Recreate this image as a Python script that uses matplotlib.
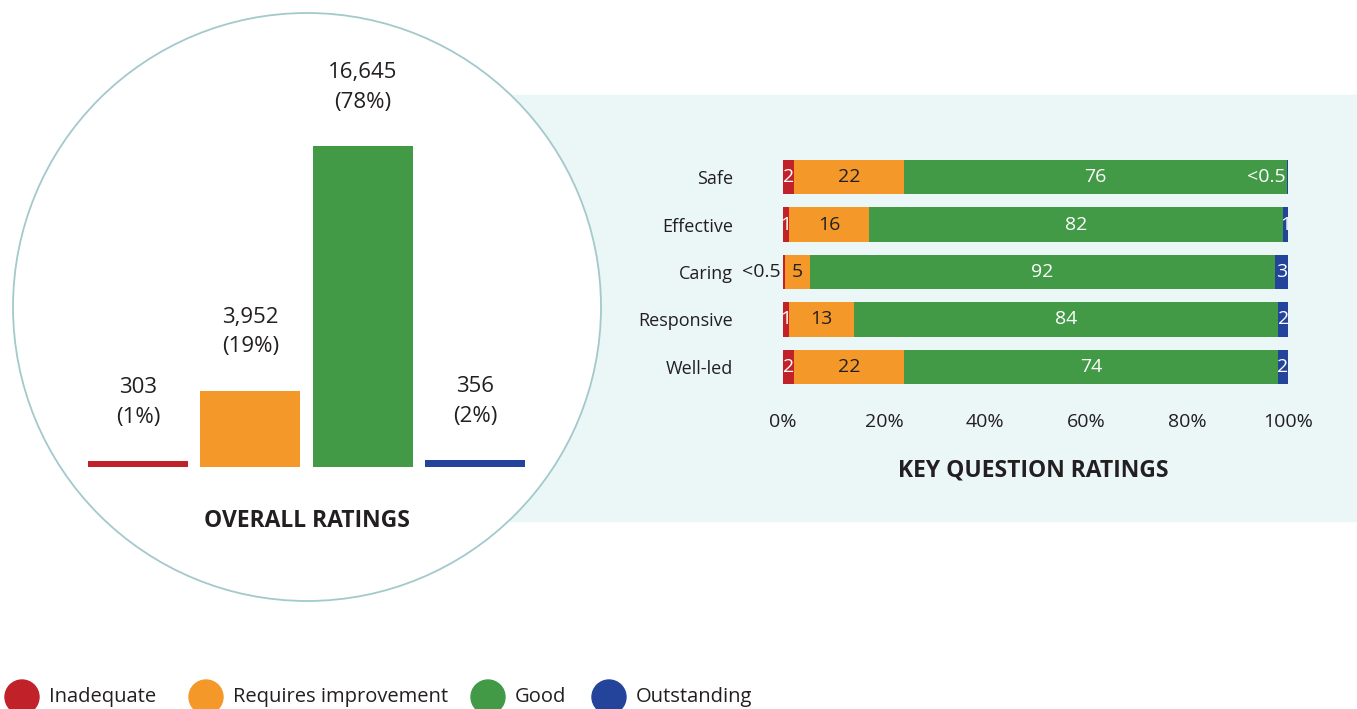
import numpy as np
import matplotlib
matplotlib.use("Agg")
import matplotlib.pyplot as plt
from matplotlib.patches import Circle, Rectangle

# overall ratings
overall_cats = ["Inadequate", "Requires improvement", "Good", "Outstanding"]
overall_counts = [303, 3952, 16645, 356]
overall_labels = ["303\n(1%)", "3,952\n(19%)", "16,645\n(78%)", "356\n(2%)"]

# key question ratings (percent)
questions = ["Safe", "Effective", "Caring", "Responsive", "Well-led"]
inadequate = [2.2, 1.2, 0.4, 1.2, 2.2]
requires_imp = [21.8, 15.8, 5.0, 12.9, 21.8]
good = [75.8, 82.0, 92.0, 84.0, 74.0]
outstanding = [0.2, 1.0, 2.6, 1.9, 2.0]
lab_inad = ["2", "1", "<0.5", "1", "2"]
lab_req = ["22", "16", "5", "13", "22"]
lab_good = ["76", "82", "92", "84", "74"]
lab_out = ["<0.5", "1", "3", "2", "2"]
xticks = [0, 20, 40, 60, 80, 100]

colors = ["#C1222A", "#F4982A", "#439A46", "#23449A"]
txt = "#231F20"
panel_col = "#EBF6F7"
ring_col = "#A3C9CC"

plt.rcParams['font.family'] = ['Open Sans', 'DejaVu Sans']

W, H = 1357, 709
fig = plt.figure(figsize=(W / 100, H / 100), dpi=100)

def px_axes(x0, y0, x1, y1, **kw):
    # pixel box (top-left origin) -> figure axes
    return fig.add_axes([x0 / W, 1 - y1 / H, (x1 - x0) / W, (y1 - y0) / H], **kw)

# background layer
bg = px_axes(0, 0, W, H)
bg.set_xlim(0, W)
bg.set_ylim(H, 0)
bg.axis("off")
bg.add_patch(Rectangle((510, 95), W - 510, 426, color=panel_col, zorder=1))
bg.add_patch(Circle((307, 307), 294, facecolor="white", edgecolor=ring_col, lw=1.3, zorder=2))
bg.text(307, 521, "OVERALL RATINGS", ha="center", va="center", fontsize=16.5,
        fontweight="bold", color=txt, zorder=3)
bg.text(1033, 470, "KEY QUESTION RATINGS", ha="center", va="center", fontsize=16.5,
        fontweight="bold", color=txt, zorder=3)

# legend
leg_x = [22, 206, 488, 609]
for x, c, name in zip(leg_x, colors, overall_cats):
    bg.add_patch(Circle((x, 697), 17, color=c, zorder=3))
    bg.text(x + 27, 697, name, ha="left", va="center", fontsize=14.5, color=txt, zorder=3)

# left: overall bar chart
axl = px_axes(81.8, 40, 531.2, 467)
axl.patch.set_alpha(0)
ymax = 16645 * 427 / 321
xpos = np.arange(len(overall_counts))
axl.bar(xpos, overall_counts, width=0.89, color=colors)
for x, v, lab in zip(xpos, overall_counts, overall_labels):
    axl.annotate(lab, (x, v), xytext=(0, 24), textcoords="offset points",
                 ha="center", va="bottom", fontsize=16, color=txt, linespacing=1.55)
axl.set_xlim(-0.5, 3.5)
axl.set_ylim(0, ymax)
axl.axis("off")

# right: stacked horizontal bars
axr = px_axes(783, 153.25, 1288, 390.75)
axr.patch.set_alpha(0)
ypos = np.arange(len(questions))
left = np.zeros(len(questions))
series = [inadequate, requires_imp, good, outstanding]
for vals, c in zip(series, colors):
    axr.barh(ypos, vals, left=left, height=0.72, color=c)
    left = left + np.array(vals)

fs = 14
for i in range(len(questions)):
    # inadequate
    if lab_inad[i] == "<0.5":
        axr.text(-0.4, i, lab_inad[i], ha="right", va="center", fontsize=fs, color=txt)
    else:
        axr.text(inadequate[i] / 2, i, lab_inad[i], ha="center", va="center",
                 fontsize=fs, color="white")
    axr.text(inadequate[i] + requires_imp[i] / 2, i, lab_req[i], ha="center",
             va="center", fontsize=fs, color=txt)
    axr.text(inadequate[i] + requires_imp[i] + good[i] / 2, i, lab_good[i],
             ha="center", va="center", fontsize=fs, color="white")
    end = inadequate[i] + requires_imp[i] + good[i] + outstanding[i]
    if lab_out[i] == "<0.5":
        axr.text(end - 0.5, i, lab_out[i], ha="right", va="center", fontsize=fs, color="white")
    else:
        axr.text(end - outstanding[i] / 2, i, lab_out[i], ha="center", va="center",
                 fontsize=fs, color="white")

axr.set_xlim(0, 100)
axr.set_ylim(4.5, -0.5)
axr.set_yticks(ypos)
axr.set_yticklabels(questions, fontsize=13, color=txt)
axr.set_xticks(xticks)
axr.set_xticklabels([f"{t}%" for t in xticks], fontsize=14, color=txt)
axr.tick_params(axis="y", length=0, pad=36)
axr.tick_params(axis="x", length=0, pad=16)
for s in axr.spines.values():
    s.set_visible(False)

fig.savefig("out.png", dpi=100)
